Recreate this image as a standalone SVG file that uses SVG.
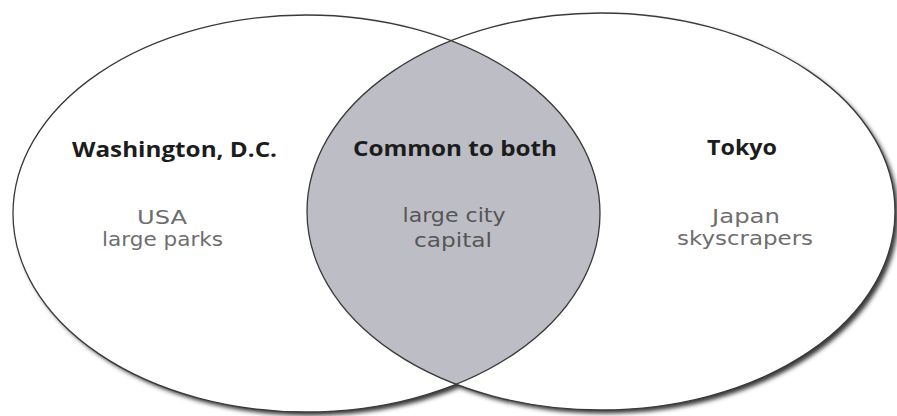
<svg xmlns="http://www.w3.org/2000/svg" width="897" height="416" viewBox="0 0 897 416">
  <style>
    .title { font-family: "Open Sans", "Liberation Sans", sans-serif; font-weight: 700; font-size: 22px; fill: #1c1c1c; text-anchor: middle; }
    .item { font-family: "DejaVu Sans", "Liberation Sans", sans-serif; font-size: 19px; fill: #6e6e6e; text-anchor: middle; }
    .lensitem { fill: #555; }
    .outline { fill: none; stroke: #3a3a3a; stroke-width: 1.3; }
    .fillw { fill: #ffffff; }
  </style>
  <defs>
    <filter id="shadow" x="-10%" y="-10%" width="120%" height="120%">
      <feGaussianBlur stdDeviation="2"/>
    </filter>
    <clipPath id="leftClip">
      <ellipse cx="306.5" cy="213.5" rx="293.5" ry="198.5"/>
    </clipPath>
  </defs>
  <rect width="897" height="416" fill="#ffffff"/>
  <!-- shadows -->
  <g filter="url(#shadow)" fill="#3a3a3a">
    <ellipse cx="310" cy="217" rx="293.5" ry="198.5"/>
    <ellipse cx="604.5" cy="215" rx="294" ry="198.5"/>
  </g>
  <!-- white fills -->
  <ellipse class="fillw" cx="306.5" cy="213.5" rx="293.5" ry="198.5"/>
  <ellipse class="fillw" cx="601" cy="211.5" rx="294" ry="198.5"/>

  <g id="overlap">
    <ellipse cx="601" cy="211.5" rx="294" ry="198.5" fill="#bdbdc6" clip-path="url(#leftClip)"/>
    <text class="title" x="455" y="156" textLength="204" lengthAdjust="spacingAndGlyphs">Common to both</text>
    <text class="item lensitem" x="454" y="222" textLength="103" lengthAdjust="spacingAndGlyphs">large city</text>
    <text class="item lensitem" x="453" y="247" textLength="78" lengthAdjust="spacingAndGlyphs">capital</text>
  </g>

  <g id="washington">
    <ellipse class="outline" cx="306.5" cy="213.5" rx="293.5" ry="198.5"/>
    <text class="title" x="174.5" y="157" textLength="205" lengthAdjust="spacingAndGlyphs">Washington, D.C.</text>
    <text class="item" x="162" y="224" textLength="50" lengthAdjust="spacingAndGlyphs">USA</text>
    <text class="item" x="162.5" y="246" textLength="121" lengthAdjust="spacingAndGlyphs">large parks</text>
  </g>

  <g id="tokyo">
    <ellipse class="outline" cx="601" cy="211.5" rx="294" ry="198.5"/>
    <text class="title" x="742" y="155" textLength="70" lengthAdjust="spacingAndGlyphs">Tokyo</text>
    <text class="item" x="746" y="223" textLength="68" lengthAdjust="spacingAndGlyphs">Japan</text>
    <text class="item" x="745" y="245" textLength="136" lengthAdjust="spacingAndGlyphs">skyscrapers</text>
  </g>

  <g id="connectors"/>
</svg>
